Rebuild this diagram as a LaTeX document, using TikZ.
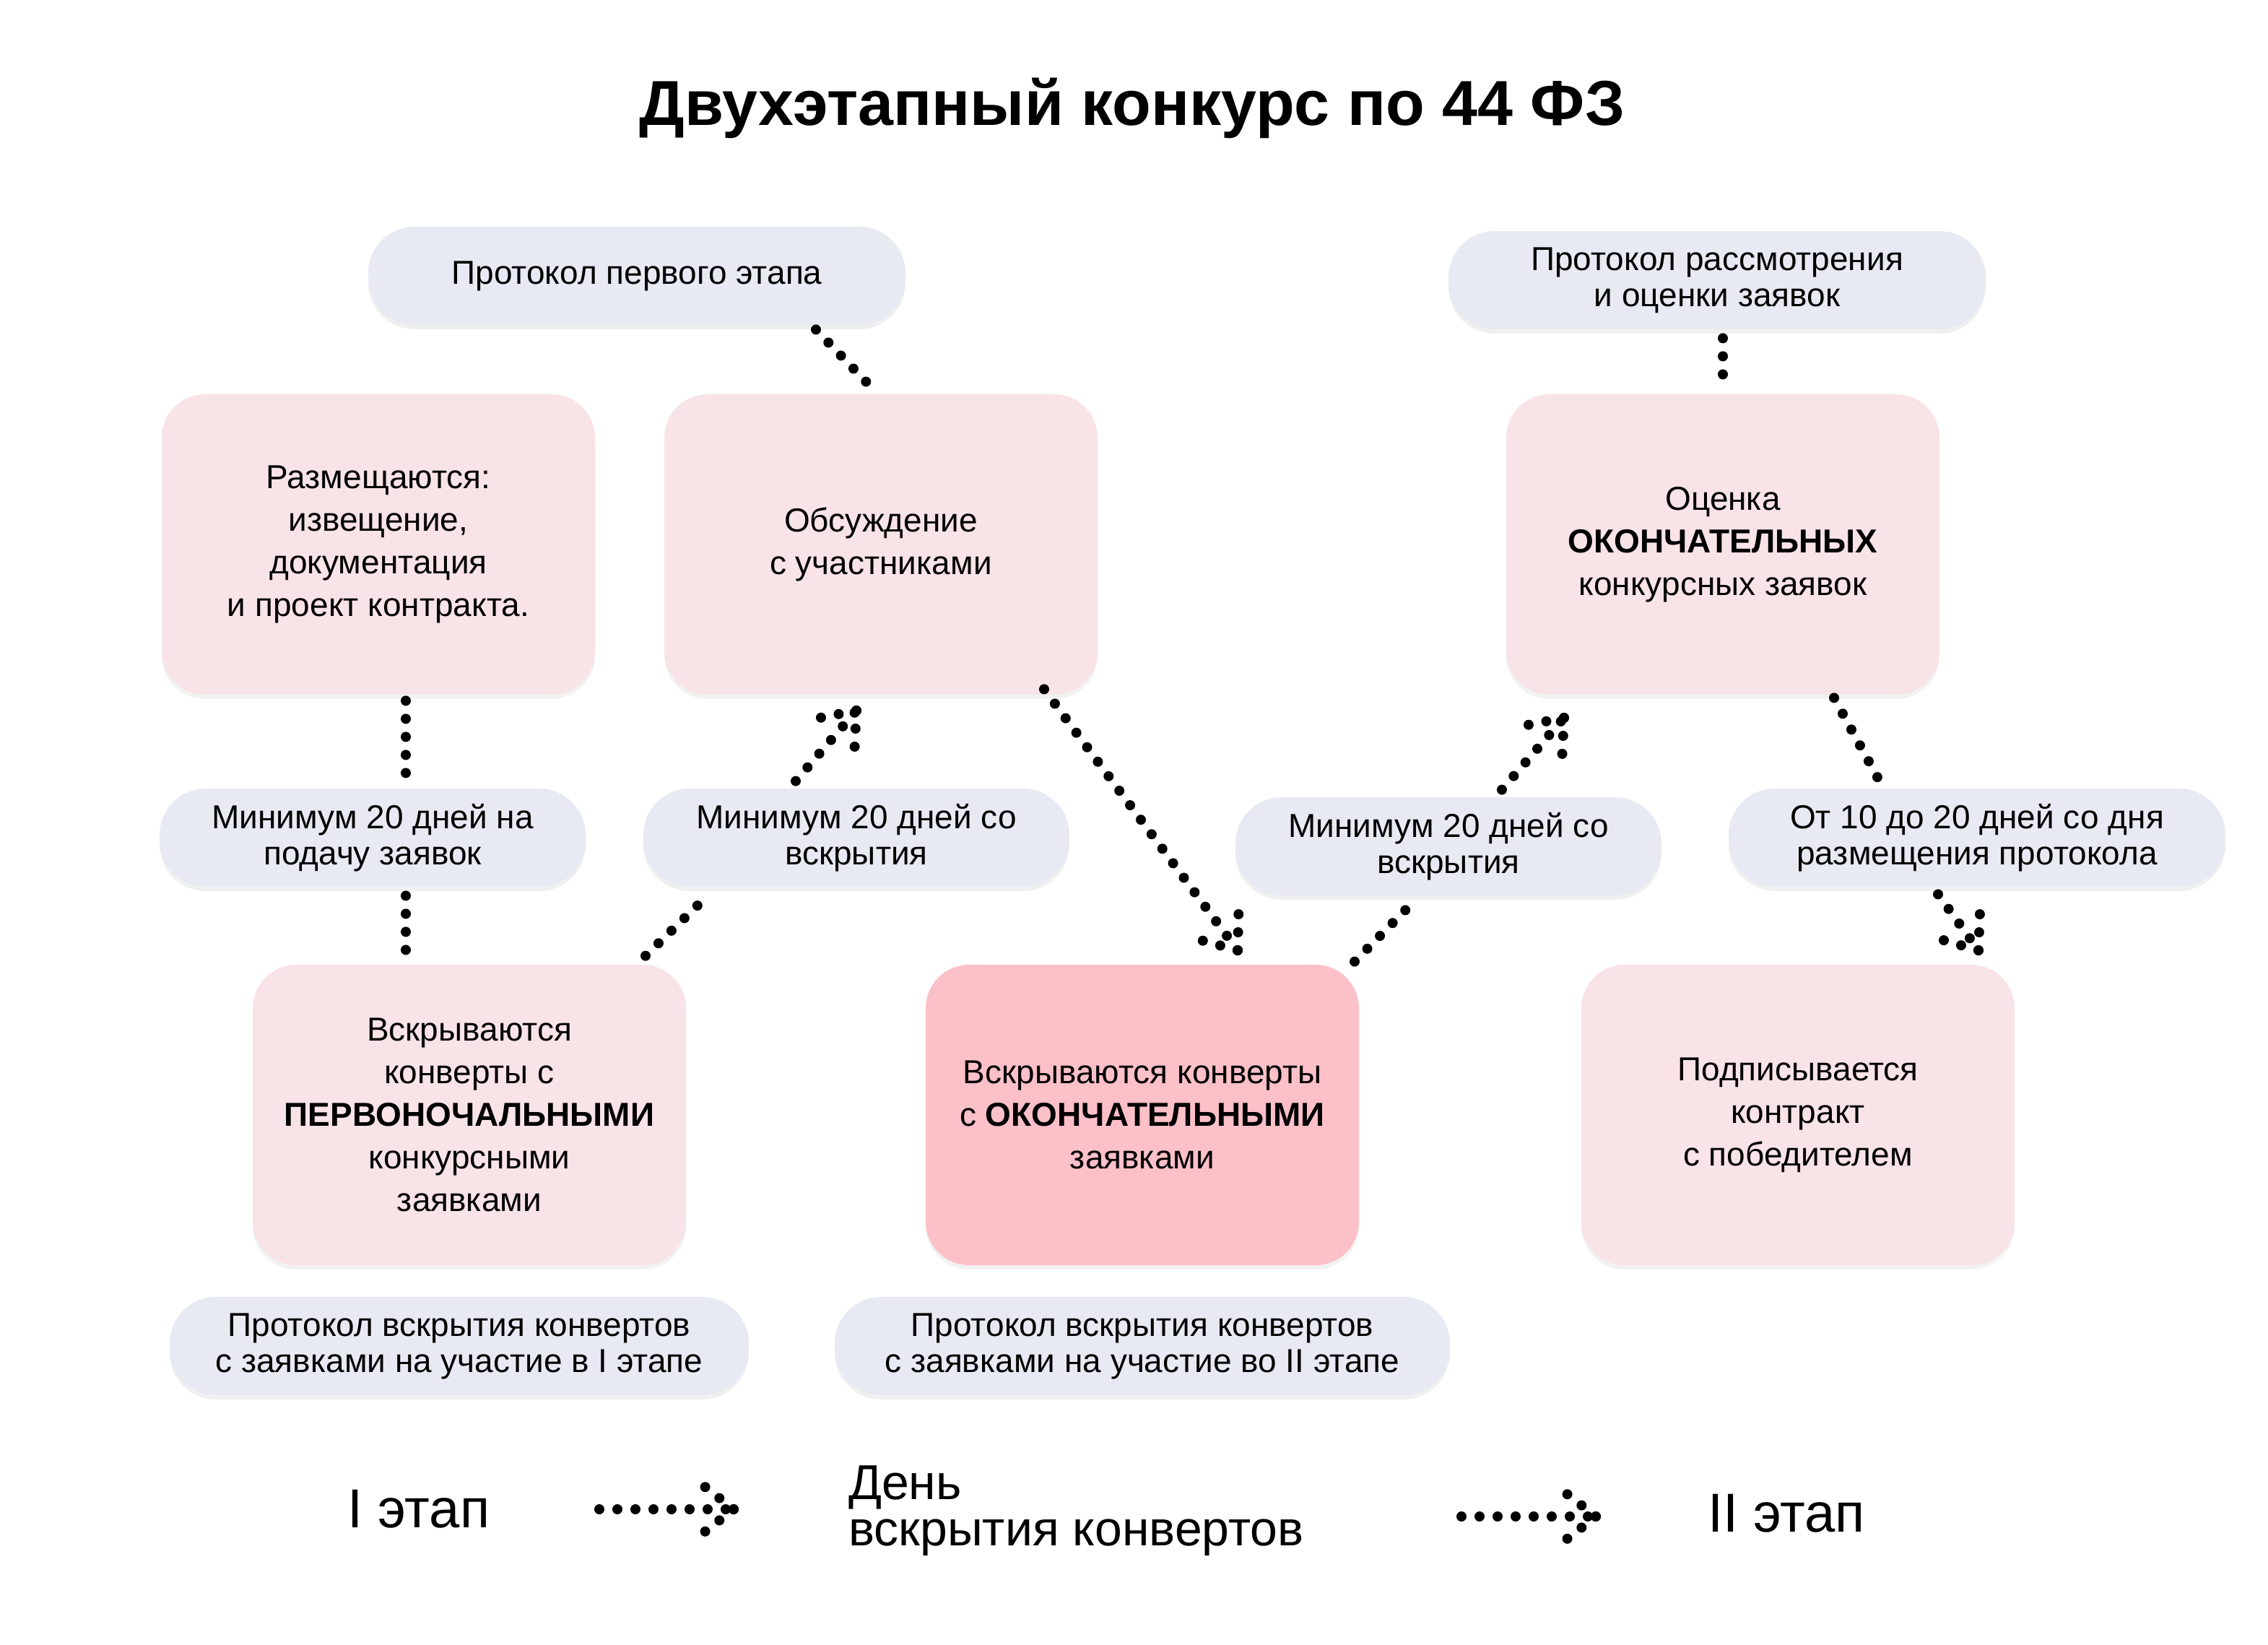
\documentclass[tikz,border=0pt]{standalone}
\usepackage{fontspec}
\setmainfont{Liberation Sans}
\usetikzlibrary{calc,shadows}
\definecolor{pillfill}{HTML}{E8EAF3}
\definecolor{boxfill}{HTML}{F8E3E6}
\definecolor{boxhot}{HTML}{FCC0C8}
\tikzset{
  pill/.style={fill=pillfill, rounded corners=32pt, minimum width=#1, minimum height=68pt,
    align=center, inner sep=0pt, font=\fontsize{23}{25}\selectfont,
    drop shadow={opacity=0.12, shadow xshift=0pt, shadow yshift=-3pt}},
  stagebox/.style={fill=boxfill, rounded corners=30pt, minimum width=300pt, minimum height=208pt,
    align=center, inner sep=0pt, font=\fontsize{23}{29.5}\selectfont,
    drop shadow={opacity=0.10, shadow xshift=0pt, shadow yshift=-3pt}},
  dotl/.style={line width=7pt, line cap=round, dash pattern=on 0pt off 12.5pt}
}
\newcommand\dotarrow[2]{%
  \draw[dotl] (#1) -- (#2);
  \draw[dotl] (#2) -- ($(#2)!34pt!38:(#1)$);
  \draw[dotl] (#2) -- ($(#2)!34pt!-38:(#1)$);}
\begin{document}
\begin{tikzpicture}[x=1pt,y=-1pt]
\useasboundingbox (0,0) rectangle (1570.5,1139);
% title
\node[font=\fontsize{44}{50}\selectfont\bfseries] (title) at (784,75) {Двухэтапный конкурс по 44 ФЗ};
% protocols and terms
\node[pill=372pt] (p1) at (441,191) {Протокол первого этапа};
\node[pill=372pt] (p2) at (1189,194) {Протокол рассмотрения\\и оценки заявок};
\node[pill=295pt] (m1) at (258,580) {Минимум 20 дней на\\подачу заявок};
\node[pill=295pt] (m2) at (593,580) {Минимум 20 дней со\\вскрытия};
\node[pill=295pt] (m3) at (1003,586) {Минимум 20 дней со\\вскрытия};
\node[pill=344pt] (m4) at (1369,580) {От 10 до 20 дней со дня\\размещения протокола};
\node[pill=401pt] (p3) at (318,932) {Протокол вскрытия конвертов\\с заявками на участие в I этапе};
\node[pill=426pt] (p4) at (791,932) {Протокол вскрытия конвертов\\с заявками на участие во II этапе};
% stages
\node[stagebox] (b1) at (262,377) {Размещаются:\\извещение,\\документация\\и проект контракта.};
\node[stagebox] (b2) at (610,377) {Обсуждение\\с участниками};
\node[stagebox] (b3) at (1193,377) {Оценка\\\textbf{ОКОНЧАТЕЛЬНЫХ}\\конкурсных заявок};
\node[stagebox] (b4) at (325,772) {Вскрываются\\конверты с\\\textbf{ПЕРВОНОЧАЛЬНЫМИ}\\конкурсными\\заявками};
\node[stagebox, fill=boxhot] (b5) at (791,772) {Вскрываются конверты\\с \textbf{ОКОНЧАТЕЛЬНЫМИ}\\заявками};
\node[stagebox] (b6) at (1245,772) {Подписывается\\контракт\\с победителем};
% connector ends
\coordinate (t2) at (593,492);
\coordinate (t5) at (857,658);
\coordinate (t3) at (1083,497);
\coordinate (t6) at (1370,658);
\draw[dotl] ($(p1.south)+(124,3)$) -- ($(b2.north)+(-6,-4)$);
\draw[dotl] ($(b1.south)+(19,4)$) -- ($(m1.north)+(23,-5)$);
\draw[dotl] ($(m1.south)+(23,6)$) -- ($(b4.north)+(-44,-5)$);
\draw[dotl] ($(b4.north)+(122,-6)$) -- ($(m2.south)+(-102,5)$);
\dotarrow{$(m2.north)+(-42,-5)$}{t2}
\dotarrow{$(b2.south)+(113,-4)$}{t5}
\draw[dotl] ($(b5.north)+(147,-2)$) -- ($(m3.south)+(-23,3)$);
\dotarrow{$(m3.north)+(37,-5)$}{t3}
\draw[dotl] ($(p2.south)+(4,6)$) -- ($(b3.north)+(0,-2)$);
\draw[dotl] ($(b3.south)+(77,2)$) -- ($(m4.north)+(-67,-4)$);
\dotarrow{$(m4.south)+(-27,5)$}{t6}
% legend
\node[font=\fontsize{38}{40}\selectfont] (l1) at (290,1045) {I этап};
\coordinate (a1s) at (415,1045);
\coordinate (a1e) at (508,1045);
\dotarrow{a1s}{a1e}
\node[font=\fontsize{34}{32}\selectfont, align=left, anchor=west] (l2) at (584,1046) {День\\вскрытия конвертов};
\coordinate (a2s) at (1012,1050);
\coordinate (a2e) at (1105,1050);
\dotarrow{a2s}{a2e}
\node[font=\fontsize{38}{40}\selectfont] (l3) at (1237,1048) {II этап};
\end{tikzpicture}
\end{document}
